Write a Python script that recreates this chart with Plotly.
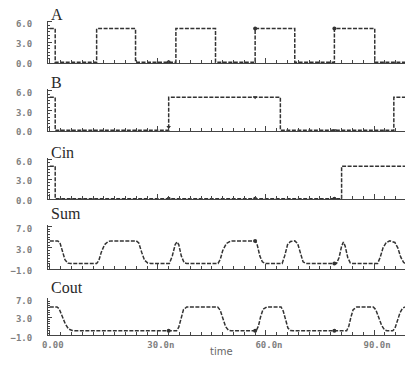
import plotly.graph_objects as go

# ---------------- data ----------------
signal_names = ["A", "B", "Cin", "Sum", "Cout"]

A_t = [0, 1.5, 1.5, 13, 13, 23.8, 23.8, 35, 35, 46, 46, 57, 57, 68, 68, 79, 79, 90.2, 90.2, 98.6]
A_v = [5, 5, 0, 0, 5, 5, 0, 0, 5, 5, 0, 0, 5, 5, 0, 0, 5, 5, 0, 0]

B_t = [0, 1.5, 1.5, 33, 33, 64, 64, 95.5, 95.5, 98.6]
B_v = [5, 5, 0, 0, 5, 5, 0, 0, 5, 5]

Cin_t = [0, 1.5, 1.5, 81, 81, 98.6]
Cin_v = [5, 5, 0, 0, 5, 5]

Sum_t = [0, 2.2, 2.8, 3.5, 4.2, 5.0, 5.8,
         13, 13.6, 14.3, 15.2, 16.2, 17.2,
         24, 24.7, 25.5, 26.3, 27.2, 28,
         33.2, 34, 34.8, 35.3, 35.8, 36.5, 37.3, 38,
         46.7, 47.3, 48, 49, 50.2, 51,
         57, 57.6, 58.3, 59, 59.8,
         64.5, 65.2, 66, 66.8, 68, 68.8, 69.5, 70.3, 71,
         79.6, 80.3, 81, 81.5, 82, 82.7, 83.4, 84,
         91, 91.7, 92.5, 93.4, 94.4, 95.8, 96.6, 97.4, 98.2, 98.6]
Sum_v = [4.3, 4.3, 4.0, 2.5, 0.8, 0.15, 0.1,
         0.1, 0.6, 2.2, 3.6, 4.2, 4.3,
         4.3, 3.9, 2.2, 0.7, 0.15, 0.1,
         0.1, 1.5, 3.6, 4.1, 3.6, 1.5, 0.2, 0.1,
         0.1, 0.8, 2.5, 3.8, 4.25, 4.3,
         4.3, 3.5, 1.5, 0.4, 0.1,
         0.1, 1.5, 3.6, 4.2, 4.3, 3.8, 2.0, 0.4, 0.1,
         0.1, 1.2, 3.3, 4.1, 3.3, 1.2, 0.2, 0.1,
         0.1, 1.2, 3.0, 4.0, 4.3, 4.0, 3.0, 1.3, 0.3, 0.1]

Cout_t = [0, 2.0, 2.6, 3.4, 4.3, 5.2, 6.2, 7,
          35.2, 35.8, 36.4, 37.1, 38, 46.6, 47.3, 48, 48.8, 49.6, 50.3,
          57.3, 57.9, 58.5, 59.2, 60.2, 64.2, 64.8, 65.4, 66.1, 66.8, 67.5,
          82.4, 83, 83.6, 84.2, 85.2, 89.8, 90.5, 91.3, 92.1, 92.9, 93.6,
          95.2, 95.8, 96.5, 97.2, 97.9, 98.6]
Cout_v = [5.2, 5.2, 4.8, 3.2, 1.5, 0.4, 0.05, 0,
          0, 0.8, 2.8, 4.6, 5.2, 5.2, 4.5, 2.8, 0.9, 0.1, 0,
          0, 1.0, 3.0, 4.7, 5.2, 5.2, 4.3, 2.4, 0.6, 0.05, 0,
          0, 1.0, 3.0, 4.6, 5.2, 5.2, 4.6, 3.0, 1.2, 0.2, 0,
          0, 0.5, 2.2, 3.9, 4.9, 5.2]

# cursor markers
A_mk_t, A_mk_v = [33, 57, 79], [0, 5, 5]
B_mk_t, B_mk_v = [33, 57, 79], [0.5, 5, 0]
Cin_mk_t, Cin_mk_v = [33, 57, 79], [0, 0, 0]
Sum_mk_t, Sum_mk_v = [57, 79], [4.3, 0.1]
Cout_mk_t, Cout_mk_v = [33, 57, 79], [0, 0, 0]

x_tick_vals = [0, 30, 60, 90]
x_tick_text = ["0.00", "30.0n", "60.0n", "90.0n"]
y_tick_vals_io = [0, 3, 6]
y_tick_text_io = ["0.0", "3.0", "6.0"]
y_tick_vals_out = [-1, 3, 7]
y_tick_text_out = ["\u22121.0", "3.0", "7.0"]
x_title = "time"

# ---------------- layout helpers ----------------
W, H = 405, 369
series = [
    (A_t, A_v, A_mk_t, A_mk_v, [-0.1, 6.2], y_tick_vals_io, y_tick_text_io, (19.0, 62.4), 13),
    (B_t, B_v, B_mk_t, B_mk_v, [-0.1, 6.2], y_tick_vals_io, y_tick_text_io, (89.6, 132.2), 82),
    (Cin_t, Cin_v, Cin_mk_t, Cin_mk_v, [-0.1, 6.2], y_tick_vals_io, y_tick_text_io, (160.3, 202.4), 154),
    (Sum_t, Sum_v, Sum_mk_t, Sum_mk_v, [-1.0, 7.2], y_tick_vals_out, y_tick_text_out, (228.9, 274.0), 217),
    (Cout_t, Cout_v, Cout_mk_t, Cout_mk_v, [-1.0, 7.2], y_tick_vals_out, y_tick_text_out, (303.2, 341.7), 293),
]

line_col = "#333333"
axis_col = "#444444"
tick_font = dict(family="DejaVu Sans Mono", size=9, color="#808080", weight="bold")

fig = go.Figure()
layout = dict(
    width=W, height=H, autosize=False,
    margin=dict(l=48, r=0, t=0, b=0, pad=0),
    paper_bgcolor="white", plot_bgcolor="white",
    showlegend=False,
    annotations=[],
)

n = len(series)
for i, (t, v, mt, mv, yr, tv, tt, (ytop, ybot), title_y) in enumerate(series):
    xs = "x" if i == 0 else f"x{i+1}"
    ys = "y" if i == 0 else f"y{i+1}"
    xk = "xaxis" if i == 0 else f"xaxis{i+1}"
    yk = "yaxis" if i == 0 else f"yaxis{i+1}"
    fig.add_trace(go.Scatter(x=t, y=v, xaxis=xs, yaxis=ys, mode="lines",
                             line=dict(color=line_col, width=1.5, dash="4px,1.5px"),
                             hoverinfo="skip"))
    fig.add_trace(go.Scatter(x=mt, y=mv, xaxis=xs, yaxis=ys, mode="markers",
                             marker=dict(color="#333333", size=4,
                                         symbol="triangle-down" if i == 1 else "circle"),
                             hoverinfo="skip"))
    last = (i == n - 1)
    layout[xk] = dict(
        domain=[0, 1], range=[-0.5, 98.6], anchor=ys,
        showline=True, linecolor=axis_col, linewidth=1,
        showgrid=False, zeroline=False,
        ticks="inside", ticklen=5, tickcolor=axis_col,
        tickmode="array", tickvals=x_tick_vals, ticktext=x_tick_text,
        showticklabels=last, tickfont=tick_font, ticklabelstandoff=1,
        ticklabelshift=3,
        minor=dict(ticks="inside", ticklen=3, tickcolor=axis_col,
                   tickmode="linear", tick0=0, dtick=3, showgrid=False),
    )
    layout[yk] = dict(
        domain=[1 - ybot / H, 1 - ytop / H], range=yr, anchor=xs,
        showline=True, linecolor=axis_col, linewidth=1,
        showgrid=False, zeroline=False,
        ticks="inside", ticklen=4, tickcolor=axis_col,
        tickmode="array", tickvals=tv, ticktext=tt,
        tickfont=tick_font, ticklabelstandoff=13, ticklabelshift=2,
        minor=dict(ticks="inside", ticklen=2, tickcolor=axis_col,
                   tickmode="linear", tick0=0, dtick=0.5, showgrid=False),
    )
    layout["annotations"].append(dict(
        text=signal_names[i], xref="paper", yref="paper",
        x=0, y=1 - title_y / H, xanchor="left", yanchor="middle",
        xshift=1, showarrow=False,
        font=dict(family="Liberation Serif", size=16, color="#2a2a2a"),
    ))

layout["annotations"].append(dict(
    text=x_title, xref="paper", yref="paper",
    x=(221 - 48) / (W - 48), y=1 - 358 / H, xanchor="center", yanchor="middle",
    showarrow=False, font=dict(family="DejaVu Sans", size=10, color="#666666"),
))

fig.update_layout(**layout)
fig.write_html("out.html")
